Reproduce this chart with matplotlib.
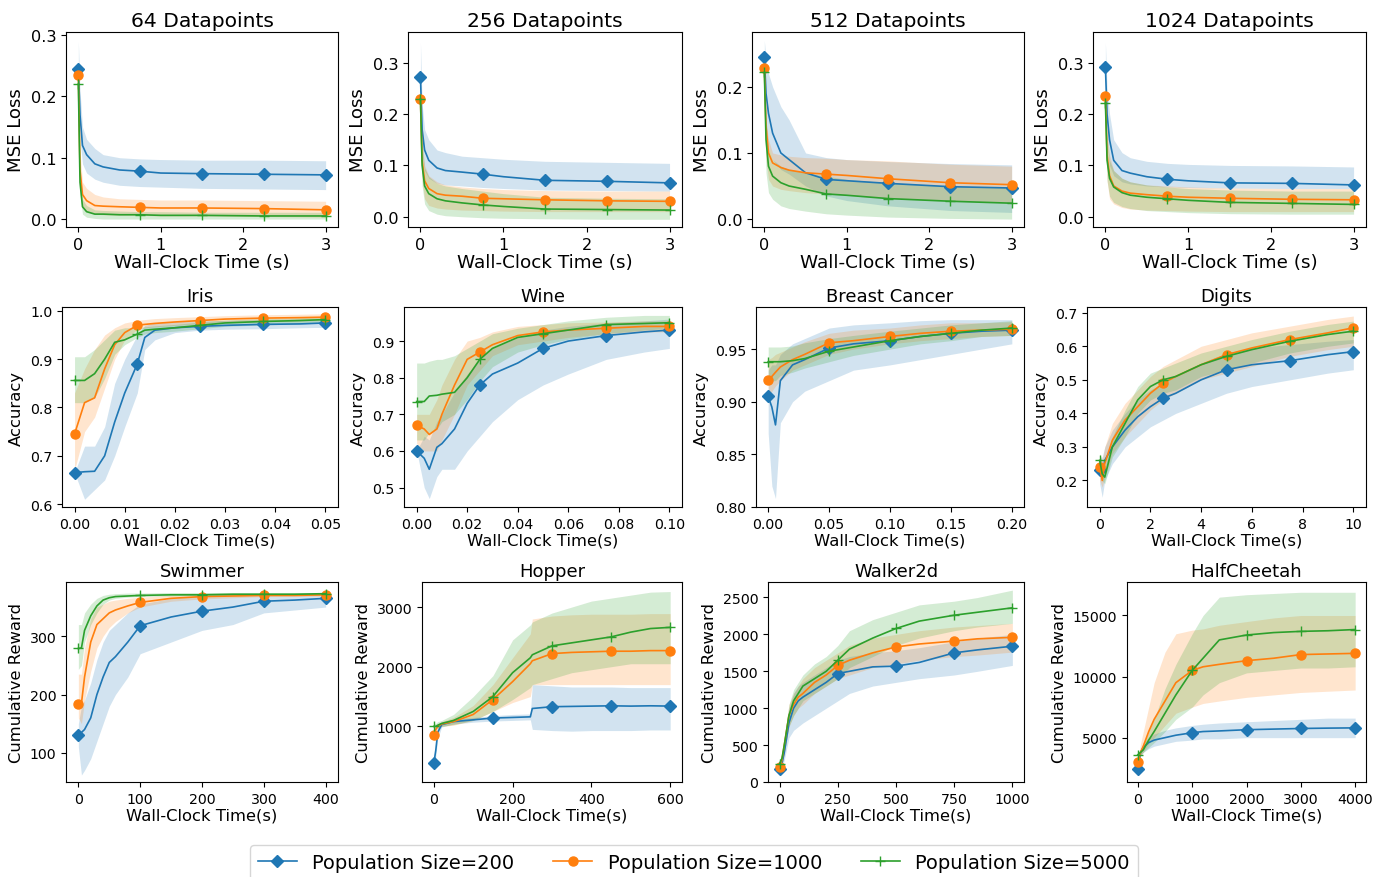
import numpy as np
import matplotlib
matplotlib.use("Agg")
import matplotlib.pyplot as plt

plt.rcParams['font.family'] = ['DejaVu Sans']

W, H = 1393, 878
labels = ['Population Size=200', 'Population Size=1000', 'Population Size=5000']
colors = ['tab:blue', 'tab:orange', 'tab:green']
markers = ['D', 'o', '+']
msizes = [6.5, 6.5, 7.5]

# ---------------- row 1 : regression (MSE loss) ----------------
t_mse = [0, 0.02, 0.05, 0.1, 0.2, 0.3, 0.5, 0.75, 1.0, 1.5, 2.25, 3.0]
mk_mse = [0, 0.75, 1.5, 2.25, 3.0]

d64_a = [0.245, 0.17, 0.12, 0.105, 0.09, 0.085, 0.08, 0.078, 0.075, 0.074, 0.073, 0.072]
d64_a_lo = [0.20, 0.13, 0.09, 0.075, 0.065, 0.06, 0.055, 0.053, 0.052, 0.05, 0.049, 0.048]
d64_a_hi = [0.29, 0.21, 0.15, 0.13, 0.115, 0.105, 0.10, 0.098, 0.097, 0.096, 0.096, 0.095]
d64_b = [0.235, 0.08, 0.04, 0.03, 0.022, 0.021, 0.02, 0.019, 0.018, 0.018, 0.017, 0.015]
d64_b_lo = [0.20, 0.05, 0.02, 0.012, 0.008, 0.007, 0.006, 0.006, 0.005, 0.005, 0.004, 0.003]
d64_b_hi = [0.25, 0.11, 0.06, 0.05, 0.04, 0.036, 0.033, 0.032, 0.031, 0.031, 0.030, 0.029]
d64_c = [0.22, 0.06, 0.02, 0.012, 0.008, 0.008, 0.007, 0.007, 0.006, 0.006, 0.005, 0.005]
d64_c_lo = [0.20, 0.04, 0.008, 0.003, 0.001, 0.0, 0.0, 0.0, 0.0, 0.0, 0.0, 0.0]
d64_c_hi = [0.23, 0.08, 0.032, 0.022, 0.015, 0.014, 0.013, 0.012, 0.012, 0.011, 0.011, 0.011]

d256_a = [0.273, 0.17, 0.13, 0.11, 0.095, 0.09, 0.087, 0.083, 0.078, 0.071, 0.069, 0.066]
d256_a_lo = [0.21, 0.12, 0.09, 0.075, 0.065, 0.062, 0.06, 0.057, 0.055, 0.052, 0.051, 0.05]
d256_a_hi = [0.34, 0.22, 0.17, 0.15, 0.13, 0.125, 0.118, 0.115, 0.112, 0.108, 0.106, 0.104]
d256_b = [0.23, 0.11, 0.07, 0.055, 0.045, 0.042, 0.04, 0.036, 0.035, 0.033, 0.031, 0.03]
d256_b_lo = [0.20, 0.07, 0.035, 0.022, 0.017, 0.015, 0.013, 0.012, 0.011, 0.01, 0.01, 0.01]
d256_b_hi = [0.25, 0.15, 0.10, 0.08, 0.068, 0.062, 0.058, 0.055, 0.053, 0.051, 0.05, 0.05]
d256_c = [0.23, 0.10, 0.06, 0.045, 0.035, 0.031, 0.027, 0.023, 0.02, 0.015, 0.014, 0.013]
d256_c_lo = [0.20, 0.06, 0.025, 0.012, 0.005, 0.002, 0.0, -0.002, -0.003, -0.004, -0.005, -0.005]
d256_c_hi = [0.25, 0.14, 0.095, 0.078, 0.065, 0.06, 0.055, 0.05, 0.045, 0.038, 0.036, 0.035]

d512_a = [0.245, 0.19, 0.16, 0.13, 0.10, 0.09, 0.07, 0.06, 0.058, 0.054, 0.049, 0.047]
d512_a_lo = [0.22, 0.14, 0.11, 0.09, 0.075, 0.068, 0.05, 0.035, 0.028, 0.02, 0.013, 0.01]
d512_a_hi = [0.27, 0.24, 0.22, 0.20, 0.17, 0.15, 0.10, 0.093, 0.09, 0.087, 0.084, 0.082]
d512_b = [0.228, 0.14, 0.10, 0.085, 0.078, 0.074, 0.07, 0.068, 0.066, 0.061, 0.055, 0.052]
d512_b_lo = [0.21, 0.09, 0.06, 0.05, 0.045, 0.043, 0.04, 0.038, 0.036, 0.032, 0.028, 0.025]
d512_b_hi = [0.24, 0.15, 0.12, 0.10, 0.097, 0.095, 0.093, 0.092, 0.09, 0.088, 0.083, 0.08]
d512_c = [0.222, 0.12, 0.08, 0.065, 0.055, 0.05, 0.045, 0.038, 0.036, 0.031, 0.027, 0.024]
d512_c_lo = [0.20, 0.07, 0.04, 0.03, 0.02, 0.016, 0.012, 0.008, 0.006, 0.003, 0.001, 0.0]
d512_c_hi = [0.23, 0.15, 0.11, 0.09, 0.08, 0.075, 0.07, 0.065, 0.06, 0.055, 0.05, 0.048]

d1024_a = [0.292, 0.2, 0.15, 0.11, 0.09, 0.085, 0.078, 0.073, 0.07, 0.066, 0.065, 0.062]
d1024_a_lo = [0.24, 0.15, 0.10, 0.08, 0.068, 0.064, 0.06, 0.058, 0.057, 0.056, 0.055, 0.055]
d1024_a_hi = [0.34, 0.25, 0.20, 0.15, 0.125, 0.115, 0.108, 0.104, 0.102, 0.1, 0.099, 0.097]
d1024_b = [0.235, 0.12, 0.08, 0.06, 0.05, 0.046, 0.043, 0.04, 0.038, 0.036, 0.034, 0.033]
d1024_b_lo = [0.21, 0.07, 0.035, 0.025, 0.018, 0.015, 0.013, 0.012, 0.011, 0.01, 0.01, 0.01]
d1024_b_hi = [0.25, 0.16, 0.12, 0.09, 0.075, 0.068, 0.062, 0.06, 0.058, 0.056, 0.055, 0.055]
d1024_c = [0.222, 0.11, 0.075, 0.058, 0.047, 0.042, 0.038, 0.035, 0.032, 0.028, 0.026, 0.024]
d1024_c_lo = [0.20, 0.07, 0.04, 0.028, 0.02, 0.016, 0.012, 0.01, 0.008, 0.006, 0.005, 0.005]
d1024_c_hi = [0.23, 0.15, 0.11, 0.09, 0.075, 0.068, 0.062, 0.058, 0.055, 0.052, 0.05, 0.05]

# ---------------- row 2 : classification (accuracy) ----------------
t_iris = [0, 0.002, 0.004, 0.006, 0.008, 0.01, 0.0125, 0.014, 0.016, 0.02, 0.025, 0.03, 0.0375, 0.045, 0.05]
mk_iris = [0, 0.0125, 0.025, 0.0375, 0.05]
iris_a = [0.665, 0.667, 0.668, 0.70, 0.77, 0.83, 0.89, 0.945, 0.96, 0.965, 0.968, 0.97, 0.972, 0.973, 0.975]
iris_a_lo = [0.665, 0.61, 0.63, 0.65, 0.70, 0.76, 0.83, 0.92, 0.94, 0.955, 0.96, 0.962, 0.963, 0.965, 0.966]
iris_a_hi = [0.665, 0.72, 0.72, 0.76, 0.85, 0.90, 0.95, 0.97, 0.975, 0.978, 0.98, 0.98, 0.982, 0.983, 0.984]
iris_b = [0.745, 0.81, 0.82, 0.88, 0.93, 0.955, 0.97, 0.972, 0.974, 0.977, 0.98, 0.983, 0.985, 0.986, 0.987]
iris_b_lo = [0.67, 0.75, 0.78, 0.84, 0.90, 0.94, 0.962, 0.965, 0.967, 0.97, 0.973, 0.976, 0.978, 0.979, 0.98]
iris_b_hi = [0.83, 0.88, 0.92, 0.95, 0.965, 0.975, 0.98, 0.982, 0.984, 0.986, 0.988, 0.99, 0.992, 0.993, 0.994]
iris_c = [0.856, 0.856, 0.87, 0.90, 0.935, 0.94, 0.952, 0.96, 0.962, 0.965, 0.97, 0.975, 0.978, 0.98, 0.982]
iris_c_lo = [0.81, 0.81, 0.82, 0.86, 0.91, 0.93, 0.945, 0.952, 0.955, 0.958, 0.963, 0.968, 0.971, 0.973, 0.975]
iris_c_hi = [0.905, 0.905, 0.92, 0.94, 0.96, 0.965, 0.965, 0.967, 0.969, 0.972, 0.977, 0.981, 0.984, 0.986, 0.988]

t_wine = [0, 0.003, 0.005, 0.008, 0.01, 0.015, 0.02, 0.025, 0.03, 0.04, 0.05, 0.06, 0.075, 0.09, 0.1]
mk_wine = [0, 0.025, 0.05, 0.075, 0.1]
wine_a = [0.60, 0.58, 0.55, 0.61, 0.62, 0.66, 0.73, 0.78, 0.81, 0.84, 0.88, 0.90, 0.915, 0.925, 0.93]
wine_a_lo = [0.60, 0.50, 0.47, 0.53, 0.55, 0.55, 0.60, 0.64, 0.68, 0.74, 0.78, 0.81, 0.85, 0.87, 0.88]
wine_a_hi = [0.60, 0.64, 0.63, 0.68, 0.70, 0.76, 0.81, 0.85, 0.88, 0.91, 0.93, 0.94, 0.95, 0.955, 0.96]
wine_b = [0.67, 0.66, 0.645, 0.66, 0.70, 0.78, 0.85, 0.87, 0.89, 0.915, 0.925, 0.93, 0.935, 0.94, 0.94]
wine_b_lo = [0.62, 0.60, 0.60, 0.60, 0.63, 0.70, 0.78, 0.82, 0.86, 0.89, 0.90, 0.91, 0.92, 0.925, 0.925]
wine_b_hi = [0.70, 0.70, 0.70, 0.74, 0.78, 0.85, 0.90, 0.91, 0.925, 0.94, 0.945, 0.95, 0.952, 0.955, 0.955]
wine_c = [0.735, 0.735, 0.75, 0.752, 0.755, 0.76, 0.80, 0.85, 0.88, 0.91, 0.92, 0.93, 0.945, 0.948, 0.95]
wine_c_lo = [0.63, 0.63, 0.65, 0.66, 0.68, 0.70, 0.74, 0.79, 0.83, 0.87, 0.89, 0.905, 0.92, 0.93, 0.935]
wine_c_hi = [0.84, 0.84, 0.845, 0.85, 0.85, 0.86, 0.88, 0.90, 0.92, 0.935, 0.945, 0.955, 0.965, 0.97, 0.97]

t_bc = [0, 0.003, 0.006, 0.01, 0.02, 0.03, 0.05, 0.07, 0.1, 0.125, 0.15, 0.175, 0.2]
mk_bc = [0, 0.05, 0.1, 0.15, 0.2]
bc_a = [0.905, 0.895, 0.878, 0.92, 0.935, 0.94, 0.951, 0.955, 0.958, 0.962, 0.965, 0.967, 0.968]
bc_a_lo = [0.87, 0.82, 0.808, 0.88, 0.90, 0.91, 0.92, 0.93, 0.935, 0.94, 0.945, 0.95, 0.955]
bc_a_hi = [0.93, 0.935, 0.935, 0.945, 0.955, 0.96, 0.97, 0.973, 0.975, 0.977, 0.978, 0.978, 0.978]
bc_b = [0.921, 0.924, 0.928, 0.933, 0.94, 0.945, 0.956, 0.958, 0.962, 0.965, 0.967, 0.968, 0.969]
bc_b_lo = [0.90, 0.91, 0.915, 0.92, 0.93, 0.935, 0.945, 0.95, 0.955, 0.958, 0.96, 0.962, 0.963]
bc_b_hi = [0.94, 0.942, 0.945, 0.947, 0.952, 0.957, 0.965, 0.968, 0.97, 0.973, 0.975, 0.975, 0.976]
bc_c = [0.938, 0.938, 0.938, 0.938, 0.939, 0.941, 0.948, 0.952, 0.958, 0.962, 0.965, 0.968, 0.97]
bc_c_lo = [0.92, 0.92, 0.92, 0.925, 0.928, 0.932, 0.938, 0.944, 0.95, 0.955, 0.958, 0.962, 0.963]
bc_c_hi = [0.952, 0.952, 0.952, 0.952, 0.953, 0.956, 0.96, 0.963, 0.967, 0.97, 0.973, 0.975, 0.977]

t_dig = [0, 0.1, 0.2, 0.5, 1, 1.5, 2, 2.5, 3, 4, 5, 6, 7.5, 9, 10]
mk_dig = [0, 2.5, 5, 7.5, 10]
dig_a = [0.23, 0.21, 0.26, 0.30, 0.35, 0.39, 0.42, 0.445, 0.46, 0.50, 0.53, 0.545, 0.557, 0.575, 0.584]
dig_a_lo = [0.19, 0.15, 0.20, 0.25, 0.30, 0.33, 0.36, 0.38, 0.40, 0.43, 0.46, 0.48, 0.50, 0.52, 0.53]
dig_a_hi = [0.27, 0.27, 0.30, 0.35, 0.40, 0.44, 0.47, 0.49, 0.51, 0.55, 0.58, 0.595, 0.605, 0.615, 0.62]
dig_b = [0.24, 0.20, 0.25, 0.32, 0.38, 0.42, 0.46, 0.49, 0.51, 0.545, 0.575, 0.595, 0.62, 0.64, 0.655]
dig_b_lo = [0.20, 0.18, 0.21, 0.28, 0.33, 0.37, 0.41, 0.44, 0.46, 0.50, 0.52, 0.54, 0.57, 0.59, 0.60]
dig_b_hi = [0.28, 0.26, 0.30, 0.37, 0.43, 0.47, 0.51, 0.54, 0.56, 0.60, 0.62, 0.64, 0.66, 0.68, 0.69]
dig_c = [0.26, 0.22, 0.21, 0.30, 0.37, 0.44, 0.48, 0.50, 0.51, 0.545, 0.57, 0.59, 0.615, 0.635, 0.645]
dig_c_lo = [0.24, 0.20, 0.19, 0.27, 0.33, 0.40, 0.44, 0.46, 0.47, 0.51, 0.53, 0.55, 0.58, 0.60, 0.61]
dig_c_hi = [0.28, 0.25, 0.24, 0.33, 0.41, 0.48, 0.52, 0.535, 0.55, 0.58, 0.60, 0.62, 0.645, 0.665, 0.675]

# ---------------- row 3 : RL (cumulative reward) ----------------
t_swim = [0, 5, 10, 20, 30, 40, 50, 60, 80, 100, 150, 200, 250, 300, 350, 400]
mk_swim = [0, 100, 200, 300, 400]
swim_a = [130, 135, 140, 160, 200, 230, 255, 265, 290, 318, 333, 343, 350, 360, 362, 365]
swim_a_lo = [110, 62, 70, 90, 120, 150, 180, 200, 230, 270, 290, 310, 320, 340, 345, 350]
swim_a_hi = [150, 180, 190, 220, 260, 290, 310, 320, 340, 355, 365, 370, 372, 373, 373, 374]
swim_b = [183, 185, 230, 290, 320, 330, 340, 345, 352, 358, 365, 368, 369, 370, 370, 371]
swim_b_lo = [160, 150, 190, 240, 280, 300, 315, 325, 340, 350, 360, 364, 366, 368, 368, 369]
swim_b_hi = [235, 235, 280, 330, 350, 355, 360, 362, 365, 367, 370, 372, 372, 373, 373, 374]
swim_c = [279, 280, 310, 335, 352, 362, 366, 368, 369, 370, 371, 371, 372, 372, 372, 373]
swim_c_lo = [243, 250, 290, 320, 340, 355, 362, 365, 367, 368, 369, 370, 370, 370, 371, 371]
swim_c_hi = [320, 320, 340, 355, 365, 370, 372, 373, 374, 374, 375, 375, 375, 375, 375, 375]

t_hop = [0, 5, 10, 20, 50, 100, 150, 200, 245, 250, 300, 350, 400, 450, 500, 550, 600]
mk_hop = [0, 150, 300, 450, 600]
hop_a = [380, 600, 900, 1030, 1080, 1110, 1140, 1150, 1160, 1300, 1330, 1335, 1340, 1345, 1340, 1345, 1340]
hop_a_lo = [300, 500, 800, 990, 1040, 1070, 1090, 1100, 1110, 950, 930, 920, 930, 930, 930, 940, 940]
hop_a_hi = [450, 700, 1000, 1070, 1120, 1150, 1180, 1200, 1210, 1700, 1680, 1660, 1660, 1660, 1650, 1650, 1650]
hop_b = [850, 950, 1000, 1040, 1080, 1200, 1450, 1750, 2050, 2100, 2220, 2240, 2250, 2260, 2260, 2270, 2270]
hop_b_lo = [750, 850, 950, 1000, 1020, 1100, 1250, 1400, 1500, 1700, 1700, 1700, 1700, 1700, 1700, 1700, 1700]
hop_b_hi = [950, 1000, 1040, 1080, 1150, 1350, 1700, 2150, 2550, 2800, 2850, 2870, 2880, 2880, 2880, 2890, 2890]
hop_c = [1000, 1000, 1020, 1050, 1100, 1250, 1500, 1900, 2150, 2200, 2350, 2400, 2450, 2500, 2580, 2640, 2660]
hop_c_lo = [950, 950, 970, 1000, 1030, 1100, 1250, 1450, 1650, 1700, 1800, 1900, 1950, 2000, 2050, 2050, 2050]
hop_c_hi = [1050, 1050, 1080, 1100, 1200, 1500, 1850, 2450, 2700, 2750, 2900, 3000, 3100, 3150, 3200, 3250, 3260]

t_walk = [0, 10, 20, 40, 60, 80, 100, 150, 200, 250, 300, 400, 500, 600, 750, 850, 1000]
mk_walk = [0, 250, 500, 750, 1000]
walk_a = [175, 250, 400, 800, 1000, 1100, 1150, 1250, 1350, 1470, 1500, 1560, 1570, 1620, 1750, 1790, 1840]
walk_a_lo = [130, 180, 300, 600, 700, 750, 800, 900, 1000, 1100, 1200, 1300, 1350, 1400, 1450, 1500, 1580]
walk_a_hi = [220, 320, 500, 1000, 1200, 1300, 1350, 1450, 1550, 1650, 1700, 1750, 1780, 1820, 1900, 1950, 2000]
walk_b = [210, 300, 500, 900, 1050, 1150, 1200, 1350, 1450, 1580, 1650, 1750, 1830, 1870, 1910, 1940, 1960]
walk_b_lo = [160, 230, 400, 750, 900, 1000, 1050, 1200, 1300, 1400, 1450, 1550, 1600, 1650, 1700, 1720, 1760]
walk_b_hi = [260, 380, 600, 1050, 1200, 1300, 1400, 1550, 1650, 1750, 1850, 1950, 2000, 2050, 2100, 2120, 2150]
walk_c = [250, 320, 500, 900, 1100, 1200, 1300, 1400, 1500, 1650, 1800, 1950, 2080, 2180, 2260, 2300, 2360]
walk_c_lo = [200, 260, 400, 750, 900, 1000, 1100, 1200, 1300, 1400, 1550, 1700, 1850, 1950, 2050, 2100, 2150]
walk_c_hi = [300, 380, 600, 1050, 1250, 1350, 1450, 1600, 1700, 1850, 2050, 2200, 2300, 2400, 2450, 2500, 2600]

t_hc = [0, 50, 100, 200, 300, 500, 700, 1000, 1200, 1500, 2000, 2500, 3000, 3500, 4000]
mk_hc = [0, 1000, 2000, 3000, 4000]
hc_a = [2400, 3800, 4200, 4600, 4800, 5000, 5200, 5400, 5500, 5550, 5650, 5700, 5750, 5780, 5800]
hc_a_lo = [2200, 3500, 3800, 4100, 4300, 4500, 4700, 4800, 4900, 4900, 5000, 5000, 5000, 5000, 5000]
hc_a_hi = [2600, 4100, 4600, 5000, 5300, 5600, 5800, 6000, 6100, 6200, 6300, 6400, 6500, 6600, 6600]
hc_b = [3000, 3800, 4300, 5500, 6500, 8000, 9500, 10500, 10800, 11000, 11300, 11500, 11800, 11850, 11900]
hc_b_lo = [2800, 3500, 3800, 4500, 5000, 6000, 7000, 7500, 7800, 8000, 8300, 8500, 8700, 8800, 8900]
hc_b_hi = [3200, 4500, 5500, 7500, 9500, 12000, 13500, 13800, 13900, 14200, 14500, 14800, 15000, 15000, 15000]
hc_c = [3600, 3800, 4000, 4800, 5500, 7000, 8500, 10500, 11500, 13000, 13400, 13600, 13700, 13750, 13850]
hc_c_lo = [3400, 3600, 3800, 4200, 4600, 5500, 6500, 7500, 8500, 9500, 10300, 10500, 10700, 10700, 10800]
hc_c_hi = [3800, 4000, 4300, 5500, 6500, 9000, 11000, 13500, 15000, 16500, 16700, 16800, 16900, 16900, 16900]

titles = ['64 Datapoints', '256 Datapoints', '512 Datapoints', '1024 Datapoints',
          'Iris', 'Wine', 'Breast Cancer', 'Digits',
          'Swimmer', 'Hopper', 'Walker2d', 'HalfCheetah']

fig = plt.figure(figsize=(W / 100, H / 100), dpi=100)

# axes boxes in pixels: (left, right), rows: (top, bottom)
rows_px = [(33, 228), (308, 508), (583, 783)]
cols_px = [[(66, 338), (408, 682), (752, 1024), (1093, 1366)],
           [(62, 338), (404, 682), (756, 1024), (1087, 1366)],
           [(66, 338), (422, 682), (768, 1024), (1127, 1366)]]
# font sizes per row: title, x label, y label, ticks
row_fonts = [(14.6, 13.2, 13.1, 11.6), (13.0, 11.8, 11.8, 10.2), (13.0, 11.8, 11.8, 10.2)]


def make_ax(r, c):
    top, bot = rows_px[r]
    l, rt = cols_px[r][c]
    return fig.add_axes([l / W, 1 - bot / H, (rt - l) / W, (bot - top) / H])


def draw(r, c, t, marks, series, xlim, ylim, xticks, yticks, xlabel, ylabel, xtl=None, ytl=None):
    ax = make_ax(r, c)
    fs_t, fs_x, fs_y, fs_k = row_fonts[r]
    t = np.asarray(t, dtype=float)
    idx = [int(np.argmin(np.abs(t - m))) for m in marks]
    for k, (mean, lo, hi) in enumerate(series):
        ax.fill_between(t, lo, hi, color=colors[k], alpha=0.2, linewidth=0)
        ax.plot(t, mean, color=colors[k], lw=1.2, marker=markers[k], ms=msizes[k],
                markevery=idx, label=labels[k], mew=1.0)
    ax.set_xlim(*xlim)
    ax.set_ylim(*ylim)
    ax.set_xticks(xticks)
    ax.set_yticks(yticks)
    if xtl is not None:
        ax.set_xticklabels(xtl)
    if ytl is not None:
        ax.set_yticklabels(ytl)
    ax.tick_params(labelsize=fs_k)
    ax.set_title(titles[r * 4 + c], fontsize=fs_t, pad=4)
    ax.set_xlabel(xlabel, fontsize=fs_x, labelpad=1)
    ax.set_ylabel(ylabel, fontsize=fs_y, labelpad=4)
    return ax


xl1, yl1 = 'Wall-Clock Time (s)', 'MSE Loss'
xl2, yl2 = 'Wall-Clock Time(s)', 'Accuracy'
yl3 = 'Cumulative Reward'

first_ax = draw(0, 0, t_mse, mk_mse,
                [(d64_a, d64_a_lo, d64_a_hi), (d64_b, d64_b_lo, d64_b_hi), (d64_c, d64_c_lo, d64_c_hi)],
                (-0.15, 3.15), (-0.013, 0.305), [0, 1, 2, 3], [0.0, 0.1, 0.2, 0.3], xl1, yl1)
draw(0, 1, t_mse, mk_mse,
     [(d256_a, d256_a_lo, d256_a_hi), (d256_b, d256_b_lo, d256_b_hi), (d256_c, d256_c_lo, d256_c_hi)],
     (-0.15, 3.15), (-0.02, 0.36), [0, 1, 2, 3], [0.0, 0.1, 0.2, 0.3], xl1, yl1)
draw(0, 2, t_mse, mk_mse,
     [(d512_a, d512_a_lo, d512_a_hi), (d512_b, d512_b_lo, d512_b_hi), (d512_c, d512_c_lo, d512_c_hi)],
     (-0.15, 3.15), (-0.012, 0.283), [0, 1, 2, 3], [0.0, 0.1, 0.2], xl1, yl1)
draw(0, 3, t_mse, mk_mse,
     [(d1024_a, d1024_a_lo, d1024_a_hi), (d1024_b, d1024_b_lo, d1024_b_hi), (d1024_c, d1024_c_lo, d1024_c_hi)],
     (-0.15, 3.15), (-0.02, 0.36), [0, 1, 2, 3], [0.0, 0.1, 0.2, 0.3], xl1, yl1)

draw(1, 0, t_iris, mk_iris,
     [(iris_a, iris_a_lo, iris_a_hi), (iris_b, iris_b_lo, iris_b_hi), (iris_c, iris_c_lo, iris_c_hi)],
     (-0.0025, 0.0525), (0.594, 1.008), [0, 0.01, 0.02, 0.03, 0.04, 0.05], [0.6, 0.7, 0.8, 0.9, 1.0], xl2, yl2,
     xtl=['0.00', '0.01', '0.02', '0.03', '0.04', '0.05'])
draw(1, 1, t_wine, mk_wine,
     [(wine_a, wine_a_lo, wine_a_hi), (wine_b, wine_b_lo, wine_b_hi), (wine_c, wine_c_lo, wine_c_hi)],
     (-0.005, 0.105), (0.447, 0.993), [0, 0.02, 0.04, 0.06, 0.08, 0.10], [0.5, 0.6, 0.7, 0.8, 0.9], xl2, yl2,
     xtl=['0.00', '0.02', '0.04', '0.06', '0.08', '0.10'])
draw(1, 2, t_bc, mk_bc,
     [(bc_a, bc_a_lo, bc_a_hi), (bc_b, bc_b_lo, bc_b_hi), (bc_c, bc_c_lo, bc_c_hi)],
     (-0.01, 0.21), (0.8, 0.99), [0, 0.05, 0.10, 0.15, 0.20], [0.80, 0.85, 0.90, 0.95], xl2, yl2,
     xtl=['0.00', '0.05', '0.10', '0.15', '0.20'], ytl=['0.80', '0.85', '0.90', '0.95'])
draw(1, 3, t_dig, mk_dig,
     [(dig_a, dig_a_lo, dig_a_hi), (dig_b, dig_b_lo, dig_b_hi), (dig_c, dig_c_lo, dig_c_hi)],
     (-0.5, 10.5), (0.121, 0.717), [0, 2, 4, 6, 8, 10], [0.2, 0.3, 0.4, 0.5, 0.6, 0.7], xl2, yl2)

draw(2, 0, t_swim, mk_swim,
     [(swim_a, swim_a_lo, swim_a_hi), (swim_b, swim_b_lo, swim_b_hi), (swim_c, swim_c_lo, swim_c_hi)],
     (-20, 420), (50, 393), [0, 100, 200, 300, 400], [100, 200, 300], xl2, yl3)
draw(2, 1, t_hop, mk_hop,
     [(hop_a, hop_a_lo, hop_a_hi), (hop_b, hop_b_lo, hop_b_hi), (hop_c, hop_c_lo, hop_c_hi)],
     (-30, 630), (68, 3420), [0, 200, 400, 600], [1000, 2000, 3000], xl2, yl3)
draw(2, 2, t_walk, mk_walk,
     [(walk_a, walk_a_lo, walk_a_hi), (walk_b, walk_b_lo, walk_b_hi), (walk_c, walk_c_lo, walk_c_hi)],
     (-50, 1050), (0, 2710), [0, 250, 500, 750, 1000], [0, 500, 1000, 1500, 2000, 2500], xl2, yl3)
draw(2, 3, t_hc, mk_hc,
     [(hc_a, hc_a_lo, hc_a_hi), (hc_b, hc_b_lo, hc_b_hi), (hc_c, hc_c_lo, hc_c_hi)],
     (-200, 4200), (1370, 17740), [0, 1000, 2000, 3000, 4000], [5000, 10000, 15000], xl2, yl3)

handles, labs = first_ax.get_legend_handles_labels()
fig.legend(handles, labs, loc='lower center', ncol=3, bbox_to_anchor=(0.498, -0.014),
           fontsize=14, frameon=True)

fig.savefig('out.png', dpi=100)
